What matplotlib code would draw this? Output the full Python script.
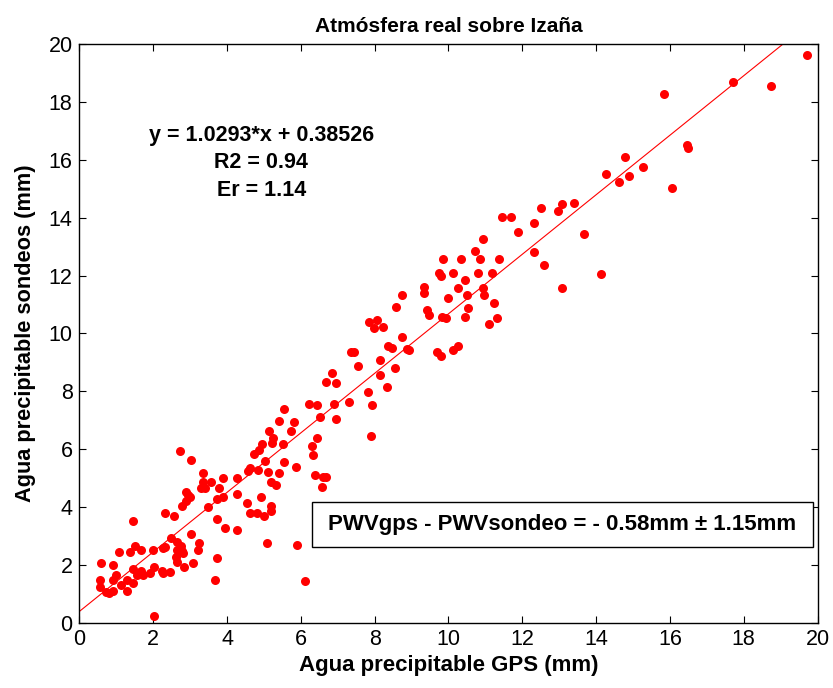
import matplotlib
matplotlib.use("Agg")
import matplotlib.pyplot as plt
from matplotlib.patches import Rectangle
import numpy as np

plt.rcParams['font.family'] = ['Liberation Sans', 'DejaVu Sans']

gps = [5.14, 5.24, 5.21, 4.95, 4.86, 4.73, 5.03, 4.62, 4.58, 4.85, 5.10, 5.41, 5.19, 5.33, 4.26, 3.90,
       3.34, 3.34, 3.29, 3.40, 3.56, 3.79, 3.90, 3.74, 2.72, 3.02, 2.89, 2.95, 2.99, 2.90, 2.77, 3.49,
       4.26, 4.53, 4.92, 5.18, 5.19, 4.62, 4.82, 5.00, 3.72, 3.94, 4.26, 5.09, 2.33, 2.56, 1.46, 3.02,
       2.47, 2.65, 2.74, 2.77, 2.63, 2.61, 2.81, 2.65, 3.25, 3.20, 3.07, 2.84, 3.74, 3.66, 2.32, 2.27,
       2.00, 1.68, 1.50, 1.37, 1.08, 0.57, 0.90, 0.98, 0.90, 0.56, 0.56, 0.72, 0.81, 0.90, 1.12, 1.28,
       1.28, 1.44, 1.44, 1.57, 1.66, 1.73, 1.91, 2.02, 2.25, 2.27, 2.45, 2.02,
       5.41, 7.85, 8.05, 7.99, 7.35, 7.45, 7.54, 8.14, 8.14, 6.67, 6.85, 6.94, 7.81, 7.94, 7.31, 6.90,
       6.23, 6.43, 6.52, 6.94, 7.90, 5.55, 5.82, 5.73, 6.43, 6.30, 6.34, 5.87, 5.55, 5.51, 6.38, 6.61,
       6.67, 6.56,
       11.45, 11.69, 11.88, 10.94, 10.72, 9.85, 10.35, 10.85, 11.36, 9.74, 9.80, 10.12, 10.81, 11.18,
       10.44, 10.25, 10.94, 10.49, 10.95, 9.98, 11.22, 10.54, 10.44, 11.32, 11.09, 9.83, 9.93, 9.34,
       9.34, 9.43, 9.47, 10.27, 10.12, 9.70, 9.80, 8.74, 8.59, 8.23, 8.74, 8.36, 8.47, 8.88, 8.92,
       8.55, 8.33,
       14.77, 14.26, 14.63, 14.90, 15.27, 12.52, 13.07, 12.98, 13.39, 12.33, 13.66, 12.33, 12.60,
       14.12, 13.07,
       19.71, 17.72, 18.73, 15.83, 16.47, 16.48, 16.07,
       5.89, 6.10]

sondeo = [6.64, 6.37, 6.20, 6.16, 5.95, 5.83, 5.57, 5.33, 5.25, 5.28, 5.22, 5.16, 4.87, 4.76, 4.99, 4.99,
          5.16, 4.87, 4.64, 4.64, 4.87, 4.64, 4.35, 4.27, 5.93, 5.62, 4.53, 4.41, 4.33, 4.20, 4.03, 3.98,
          4.45, 4.15, 4.33, 4.04, 3.87, 3.80, 3.80, 3.70, 3.58, 3.28, 3.20, 2.74, 3.80, 3.69, 3.51, 3.05,
          2.94, 2.80, 2.66, 2.49, 2.51, 2.28, 2.39, 2.11, 2.74, 2.51, 2.05, 1.93, 2.22, 1.46, 2.62, 2.57,
          2.51, 2.51, 2.66, 2.45, 2.45, 2.05, 1.99, 1.64, 1.47, 1.47, 1.24, 1.07, 1.01, 1.10, 1.30, 1.47,
          1.10, 1.36, 1.85, 1.64, 1.79, 1.64, 1.70, 1.93, 1.78, 1.70, 1.74, 0.22,
          6.98, 10.41, 10.47, 10.20, 9.34, 9.34, 8.86, 9.08, 8.56, 8.33, 8.62, 8.28, 7.99, 7.51, 7.63, 7.57,
          7.57, 7.51, 7.10, 7.04, 6.45, 7.38, 6.92, 6.62, 6.39, 6.10, 5.79, 5.39, 5.56, 6.16, 5.09, 5.02,
          5.02, 4.68,
          14.04, 14.04, 13.50, 13.27, 12.85, 12.57, 12.57, 12.57, 12.57, 12.10, 11.97, 12.10, 12.10, 12.08,
          11.86, 11.56, 11.58, 11.33, 11.33, 11.22, 11.04, 10.87, 10.58, 10.52, 10.33, 10.58, 10.52, 11.59,
          11.39, 10.81, 10.63, 9.56, 9.41, 9.35, 9.22, 11.33, 10.93, 10.21, 9.87, 9.58, 9.51, 9.45, 9.42,
          8.82, 8.16,
          16.10, 15.52, 15.23, 15.46, 15.75, 14.34, 14.46, 14.23, 14.51, 13.81, 13.45, 12.81, 12.35,
          12.05, 11.56,
          19.64, 18.69, 18.57, 18.29, 16.52, 16.41, 15.04,
          2.68, 1.45]

slope = 1.0293
intercept = 0.38526
fit_x = [0, 20]

title = "Atmósfera real sobre Izaña"
xlabel = "Agua precipitable GPS (mm)"
ylabel = "Agua precipitable sondeos (mm)"
eq_lines = ["y = 1.0293*x + 0.38526", "R2 = 0.94", "Er = 1.14"]
box_text = "PWVgps - PWVsondeo = - 0.58mm \u00b1 1.15mm"

fig = plt.figure(figsize=(8.33, 6.88), dpi=100)
ax = fig.add_axes([0.0954, 0.0952, 0.8860, 0.8404])

ax.plot(gps, sondeo, 'o', color='#ff0000', markersize=6.5, markeredgewidth=0, zorder=3)
fx = np.array(fit_x, dtype=float)
ax.plot(fx, slope * fx + intercept, '-', color='#ff0000', linewidth=0.8, zorder=2)

ax.set_xlim(0, 20)
ax.set_ylim(0, 20)
ax.set_xticks(np.arange(0, 21, 2))
ax.set_yticks(np.arange(0, 21, 2))
ax.tick_params(direction='in', top=True, right=True, length=5, width=0.8,
               labelsize=15.5, pad=5)
for s in ax.spines.values():
    s.set_linewidth(1.0)

ax.set_title(title, fontsize=15, fontweight='bold', pad=9)
ax.set_xlabel(xlabel, fontsize=16, fontweight='bold', labelpad=3)
ax.set_ylabel(ylabel, fontsize=15.7, fontweight='bold', labelpad=9)

eq_y = [16.85, 15.92, 14.95]
for t, yy in zip(eq_lines, eq_y):
    ax.text(4.93, yy, t, ha='center', va='center', fontsize=15.5, fontweight='bold')

ax.add_patch(Rectangle((6.30, 2.60), 13.58, 1.57, facecolor='white', edgecolor='black',
                       linewidth=1.0, zorder=4))
ax.text(13.09, 3.38, box_text, ha='center', va='center', fontsize=16, fontweight='bold', zorder=5)

fig.savefig("out.png", dpi=100)
